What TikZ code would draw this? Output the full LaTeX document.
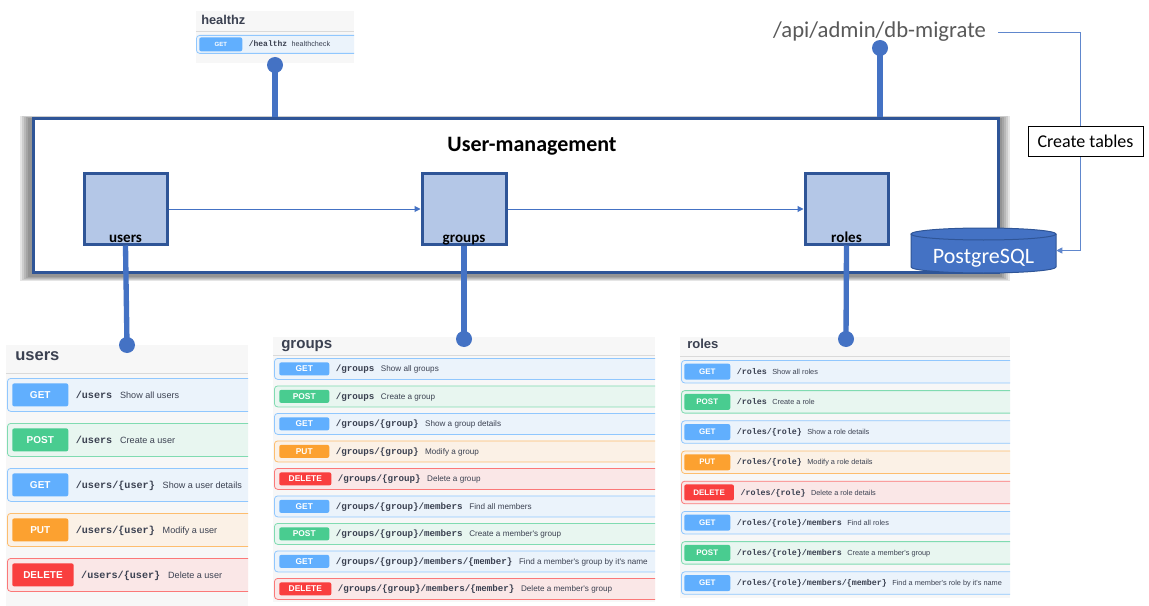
\documentclass[tikz,border=0pt]{standalone}
\usepackage{fontspec}
\setmainfont{Carlito}
\newfontfamily\swag{Liberation Sans}
\newfontfamily\swagmono{Liberation Mono}
\usepackage{tikz}
\usetikzlibrary{positioning,fit,shadows,arrows.meta}
\definecolor{umblue}{HTML}{2F5597}
\definecolor{boxfill}{HTML}{B4C7E7}
\definecolor{conblue}{HTML}{4472C4}
\definecolor{miggray}{HTML}{595959}
\definecolor{swtext}{HTML}{3B4151}
\definecolor{swpanel}{HTML}{F7F7F7}
\definecolor{swline}{HTML}{DADADA}
\definecolor{GETc}{HTML}{61AFFE}
\definecolor{GETbg}{HTML}{EBF3FB}
\definecolor{POSTc}{HTML}{49CC90}
\definecolor{POSTbg}{HTML}{E8F6F0}
\definecolor{PUTc}{HTML}{FCA130}
\definecolor{PUTbg}{HTML}{FBF1E6}
\definecolor{DELETEc}{HTML}{F93E3E}
\definecolor{DELETEbg}{HTML}{FAE7E7}
\tikzset{mainbox/.style={draw=umblue, line width=2.25pt, fill=white, inner sep=0pt},
    modbox/.style={draw=umblue, line width=2.25pt, fill=boxfill, inner sep=0pt,
        drop shadow={shadow xshift=1.5pt, shadow yshift=-1.5pt, opacity=0.3}},
    modlabel/.style={anchor=base, yshift=2.5pt, font=\bfseries\fontsize{11.3}{13}\selectfont},
    flow/.style={draw=conblue, line width=0.75pt, -{Triangle[length=4.5pt,width=4.5pt]}},
    conn/.style={draw=conblue, line width=4pt},
    dot/.style={circle, fill=conblue, inner sep=0pt, minimum size=12pt},
    swrow/.style={draw=#1c!70!white, fill=#1bg, line width=0.6pt, rounded corners=2.5pt,
        inner sep=0pt, minimum width=320pt, anchor=north west},
    swbadge/.style={fill=#1c, text=white, rounded corners=1.5pt, inner ysep=0pt, anchor=west},
    swpath/.style={text=swtext, inner sep=0pt},
    swdesc/.style={text=swtext, inner sep=0pt},
    swhead/.style={text=swtext, inner sep=0pt, anchor=base west}}

\begin{document}
\begin{tikzpicture}[x=0.75pt, y=-0.75pt]
    \useasboundingbox[fill=white] (0,0) rectangle (1149,606);

    % healthz
    \fill[swpanel] (196,11) rectangle (354,63);
    \draw[swline, line width=0.75pt] (196,32) -- (354,32);
    \node[swhead, font=\swag\bfseries\fontsize{9.6}{11}\selectfont] (hzhead) at (201,25) {healthz};
    \begin{scope}
        \clip (196,11) rectangle (354,63);
        \node[swrow=GET, minimum height=13.5pt] (hzrow) at (196,35) {};
        \node[swbadge=GET, minimum width=32.25pt, minimum height=10.5pt,
            font=\swag\bfseries\fontsize{4.5}{5}\selectfont] (hzbadge) at ([xshift=2.25pt]hzrow.west) {GET};
        \node[swpath, base right=4.5pt of hzbadge, font=\swagmono\bfseries\fontsize{6}{7}\selectfont] (hzpath) {/healthz};
        \node[swdesc, base right=3pt of hzpath, font=\swag\fontsize{5.4}{6}\selectfont] (hzdesc) {healthcheck};
    \end{scope}

    % users
    \fill[swpanel] (6,345) rectangle (248,606);
    \draw[swline, line width=0.75pt] (6,373) -- (248,373);
    \node[swhead, font=\swag\bfseries\fontsize{12.4}{14}\selectfont] (ushead) at (15,360) {users};
    \begin{scope}
        \clip (6,345) rectangle (248,606);
        \foreach \m/\p/\d [count=\i from 0] in {GET/{/users}/{Show all users},
            POST/{/users}/{Create a user}, GET/{/users/\{user\}}/{Show a user details},
            PUT/{/users/\{user\}}/{Modify a user}, DELETE/{/users/\{user\}}/{Delete a user}} {
            \node[swrow=\m, minimum height=24.75pt] (ur\i) at (7,{378+45*\i}) {};
            \node[swbadge=\m, minimum width=42pt, minimum height=17.25pt, inner xsep=8.25pt,
                font=\swag\bfseries\fontsize{7.5}{9}\selectfont] (ub\i) at ([xshift=3.75pt]ur\i.west) {\m};
            \node[swpath, base right=5.25pt of ub\i, font=\swagmono\bfseries\fontsize{7.6}{9}\selectfont] (up\i) {\p};
            \node[swdesc, base right=5.5pt of up\i, font=\swag\fontsize{6.8}{8}\selectfont] (ud\i) {\d};
        }
    \end{scope}

    % groups
    \fill[swpanel] (273,337) rectangle (655,602);
    \draw[swline, line width=0.75pt] (273,355) -- (655,355);
    \node[swhead, font=\swag\bfseries\fontsize{11.3}{13}\selectfont] (grhead) at (281,348) {groups};
    \begin{scope}
        \clip (273,337) rectangle (655,602);
        \foreach \m/\p/\d [count=\i from 0] in {GET/{/groups}/{Show all groups},
            POST/{/groups}/{Create a group}, GET/{/groups/\{group\}}/{Show a group details},
            PUT/{/groups/\{group\}}/{Modify a group}, DELETE/{/groups/\{group\}}/{Delete a group},
            GET/{/groups/\{group\}/members}/{Find all members},
            POST/{/groups/\{group\}/members}/{Create a member's group},
            GET/{/groups/\{group\}/members/\{member\}}/{Find a member's group by it's name},
            DELETE/{/groups/\{group\}/members/\{member\}}/{Delete a member's group}} {
            \node[swrow=\m, minimum height=15.75pt] (gr\i) at (274,{358+27.5*\i}) {};
            \node[swbadge=\m, minimum width=37.5pt, minimum height=9.75pt, inner xsep=7.1pt,
                font=\swag\bfseries\fontsize{6.3}{7}\selectfont] (gb\i) at ([xshift=3.75pt]gr\i.west) {\m};
            \node[swpath, base right=4.5pt of gb\i, font=\swagmono\bfseries\fontsize{6.9}{8}\selectfont] (gp\i) {\p};
            \node[swdesc, base right=4.5pt of gp\i, font=\swag\fontsize{6.1}{7}\selectfont] (gd\i) {\d};
        }
    \end{scope}

    % roles
    \fill[swpanel] (680,337) rectangle (1010,598);
    \draw[swline, line width=0.75pt] (680,356) -- (1010,356);
    \node[swhead, font=\swag\bfseries\fontsize{9.8}{11}\selectfont] (rohead) at (687,348) {roles};
    \begin{scope}
        \clip (680,337) rectangle (1010,598);
        \foreach \m/\p/\d [count=\i from 0] in {GET/{/roles}/{Show all roles},
            POST/{/roles}/{Create a role}, GET/{/roles/\{role\}}/{Show a role details},
            PUT/{/roles/\{role\}}/{Modify a role details}, DELETE/{/roles/\{role\}}/{Delete a role details},
            GET/{/roles/\{role\}/members}/{Find all roles},
            POST/{/roles/\{role\}/members}/{Create a member's group},
            GET/{/roles/\{role\}/members/\{member\}}/{Find a member's role by it's name}} {
            \node[swrow=\m, minimum height=16.9pt] (rr\i) at (681,{360+30.2*\i}) {};
            \node[swbadge=\m, minimum width=34.5pt, minimum height=12pt, inner xsep=6.8pt,
                font=\swag\bfseries\fontsize{6}{7}\selectfont] (rb\i) at ([xshift=2.25pt]rr\i.west) {\m};
            \node[swpath, base right=4.5pt of rb\i, font=\swagmono\bfseries\fontsize{6.25}{7}\selectfont] (rp\i) {\p};
            \node[swdesc, base right=3.75pt of rp\i, font=\swag\fontsize{5.5}{6}\selectfont] (rd\i) {\d};
        }
    \end{scope}

    % User-management
    \foreach \k in {0,...,4}
        \fill[black, opacity=0.1] ({20+2*\k},{116+0.5*\k}) rectangle ({1010-2*\k},{281-\k});
    \node[mainbox, fit={(33.5,118.5) (998.5,272.5)}] (umbox) {};
    \node[anchor=base, font=\bfseries\fontsize{16.5}{20}\selectfont] (umtitle) at (532,152) {User-management};
    \node[modbox, fit={(84,174) (167,244)}, label={[modlabel]south:users}] (users) {};
    \node[modbox, fit={(422,174) (506,244)}, label={[modlabel]south:groups}] (groups) {};
    \node[modbox, fit={(805,174) (888,244)}, label={[modlabel]south:roles}] (roles) {};
    \draw[flow] (users) -- (groups);
    \draw[flow] (groups) -- (roles);

    % PostgreSQL
    \filldraw[fill=conblue, draw=umblue, line width=0.75pt] (911,234) -- (911,267)
        arc[start angle=180, end angle=0, x radius=72.5, y radius=6] -- (1056,234);
    \filldraw[fill=conblue, draw=umblue, line width=0.75pt] (983.5,234) ellipse[x radius=72.5, y radius=6];
    \node[fit={(911,228) (1056,273)}, inner sep=0pt] (db) {};
    \node[anchor=base, text=white, inner sep=0pt, font=\fontsize{16.5}{20}\selectfont] (dbtext) at (983.5,263) {PostgreSQL};

    \node[anchor=base, inner sep=0pt, text=miggray, font=\fontsize{17}{20}\selectfont] (dbmig) at (879.5,38) {/api/admin/db-migrate};
    \draw[flow, draw=conblue!85!white] ([xshift=9pt]dbmig.east) -| ([xshift=18pt]db.east) -- (db.east);
    \node[draw=black, fill=white, line width=0.6pt, inner sep=0pt, minimum width=86.25pt, minimum height=22.5pt,
        font=\fontsize{13.5}{16}\selectfont] (ctlabel) at (1085.5,141) {Create tables};

    % connectors
    \node[dot] (hzdot) at (275,65) {};
    \node[dot] (migdot) at (880,48) {};
    \node[dot] (usersdot) at (127,345) {};
    \node[dot] (groupsdot) at (464,339) {};
    \node[dot] (rolesdot) at (846,339) {};
    \draw[conn] (hzdot.center) -- (hzdot |- umbox.north);
    \draw[conn] (migdot.center) -- (migdot |- umbox.north);
    \draw[conn] (users.south) -- (usersdot.center);
    \draw[conn] (groups.south) -- (groupsdot.center);
    \draw[conn] (roles.south) -- (rolesdot.center);
\end{tikzpicture}
\end{document}
